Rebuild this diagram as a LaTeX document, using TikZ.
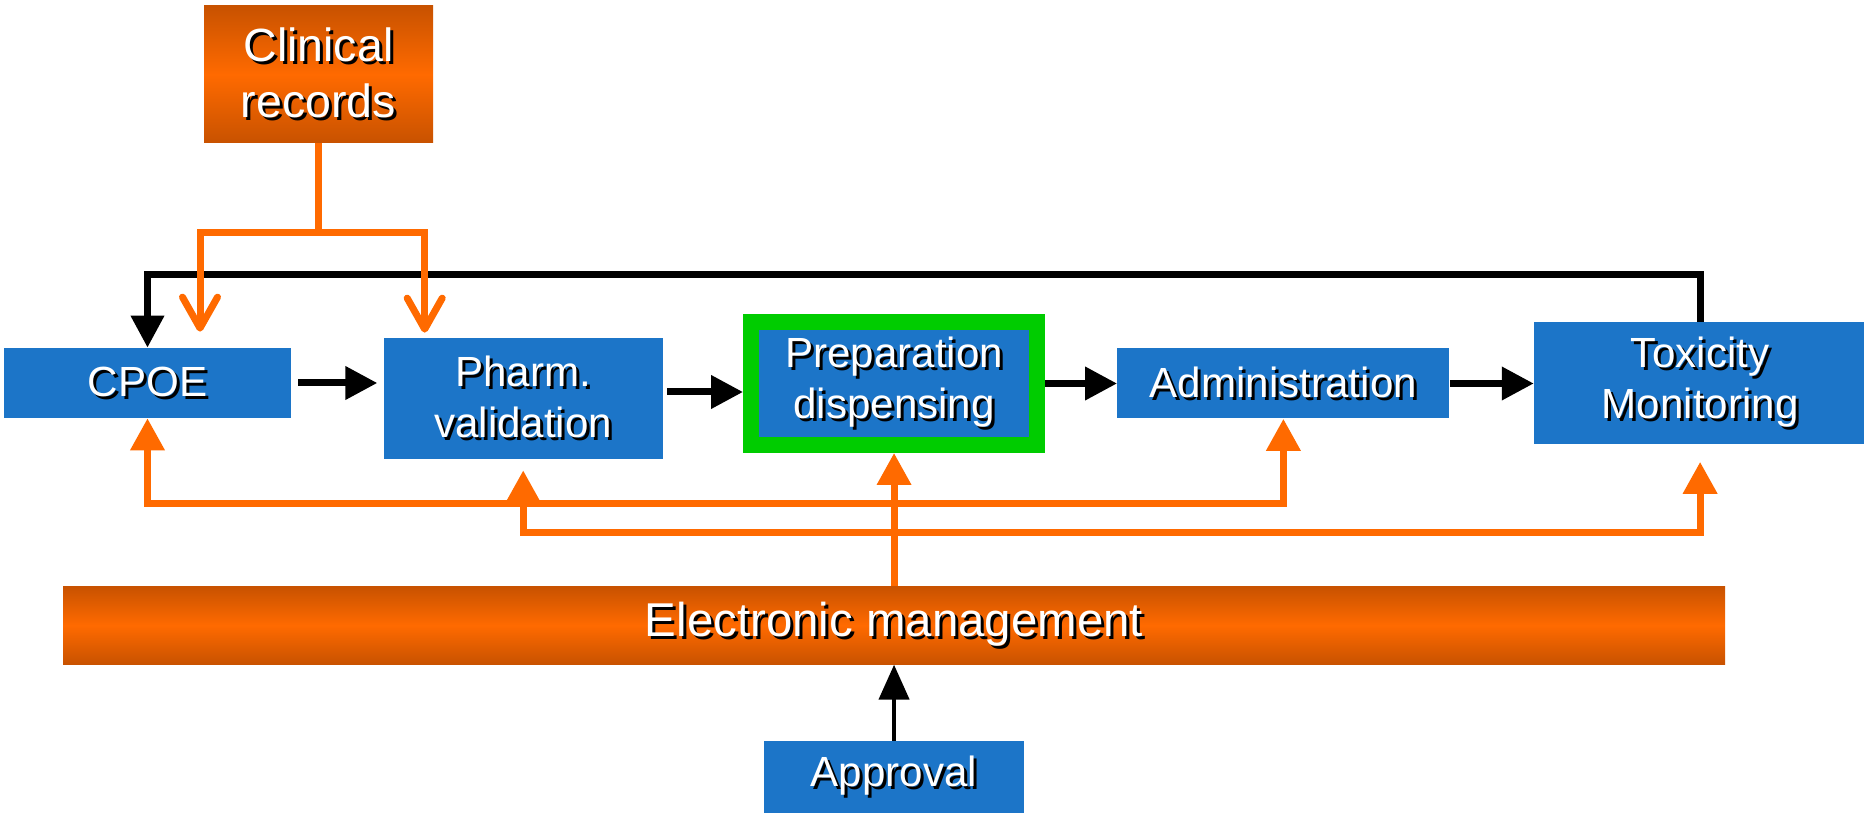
\documentclass[tikz,border=0pt]{standalone}
\usepackage{fontspec}
\setmainfont{Liberation Sans}
\usetikzlibrary{arrows.meta,positioning}

\definecolor{stepblue}{RGB}{28,117,200}
\definecolor{orgmain}{RGB}{255,106,0}
\definecolor{orgdark}{RGB}{200,82,0}
\definecolor{prepgreen}{RGB}{0,204,0}

\newcommand{\shd}[1]{\leavevmode\rlap{\kern0.06cm\raisebox{-0.06cm}{\color{black}#1}}#1}

\begin{document}
\begin{tikzpicture}[
    node distance=1.5cm,
    box/.style={rectangle, fill=stepblue, text=white, inner sep=2pt, align=center, font=\fontsize{24}{29}\selectfont},
    srcbox/.style={rectangle, top color=orgdark, bottom color=orgdark, middle color=orgmain, text=white, inner sep=2pt, align=center},
    arrow/.style={draw=black, line width=0.14cm, -{Triangle[length=0.64cm,width=0.64cm]}},
    feed/.style={draw=orgmain, line width=0.14cm}
]
    \useasboundingbox (0,0) rectangle (37.28,-16.26);
    \fill[white] (0,0) rectangle (37.28,-16.26);

    \node[box, minimum width=5.74cm, minimum height=1.4cm] (cpoe) at (2.95,-7.66) {\shd{CPOE}};
    \node[box, minimum width=5.58cm, minimum height=2.42cm, right=1.84cm of cpoe, yshift=-0.31cm] (pharm) {\shd{Pharm.}\\\shd{validation}};
    \node[box, draw=prepgreen, line width=0.32cm, minimum width=5.72cm, minimum height=2.46cm, right=1.6cm of pharm, yshift=0.3cm] (prep) {\shd{Preparation}\\\shd{dispensing}};
    \node[box, minimum width=6.64cm, minimum height=1.4cm, right=1.44cm of prep] (admin) {\shd{Administration}};
    \node[box, minimum width=6.64cm, minimum height=2.44cm, right=1.68cm of admin] (tox) {\shd{Toxicity}\\\shd{Monitoring}};
    \node[srcbox, minimum width=4.58cm, minimum height=2.74cm, font=\fontsize{26.5}{32}\selectfont] (clin) at (6.37,-1.49) {\shd{Clinical}\\\shd{records}};
    \node[srcbox, minimum width=33.24cm, minimum height=1.56cm, font=\fontsize{27}{32}\selectfont, below=2.66cm of prep] (elec) {\shd{Electronic management}};
    \node[box, minimum width=5.2cm, minimum height=1.46cm, below=1.52cm of elec] (appr) {\shd{Approval}};

    % main flow
    \draw[arrow, shorten <=0.14cm, shorten >=0.12cm] (cpoe.east) -- (cpoe.east -| pharm.west);
    \draw[arrow, shorten <=0.08cm] ([yshift=0.13cm]pharm.east) -- ([yshift=0.13cm]pharm.east -| prep.west);
    \draw[arrow] (prep.east) -- (admin.west);
    \draw[arrow] (admin.east) -- (tox.west);
    \draw[arrow] (tox.north) -- ++(0,0.96) -| (cpoe.north);

    % records
    \coordinate[below=1.78cm of clin] (split);
    \draw[feed] (clin.south) -- (split);
    \draw[feed, -{Straight Barb[length=0.62cm,width=0.7cm,round]}, shorten >=0.32cm] (split) -| ([xshift=1.05cm]cpoe.north);
    \draw[feed, -{Straight Barb[length=0.62cm,width=0.7cm,round]}, shorten >=0.1cm] (split) -| ([xshift=-1.97cm]pharm.north);

    % electronic management
    \draw[feed, {Triangle[length=0.64cm,width=0.66cm]}-{Triangle[length=0.64cm,width=0.66cm]}] (cpoe.south) -- ++(0,-1.7) -| (admin.south);
    \draw[feed, {Triangle[length=0.64cm,width=0.66cm]}-{Triangle[length=0.64cm,width=0.66cm]}, shorten <=0.22cm, shorten >=0.34cm] (pharm.south) -- ++(0,-1.46) -| (tox.south);
    \draw[feed, -{Triangle[length=0.64cm,width=0.66cm]}] (elec.north) -- (prep.south);
    \draw[arrow, line width=0.09cm, -{Triangle[length=0.7cm,width=0.6cm]}] (appr.north) -- (elec.south);
\end{tikzpicture}
\end{document}
